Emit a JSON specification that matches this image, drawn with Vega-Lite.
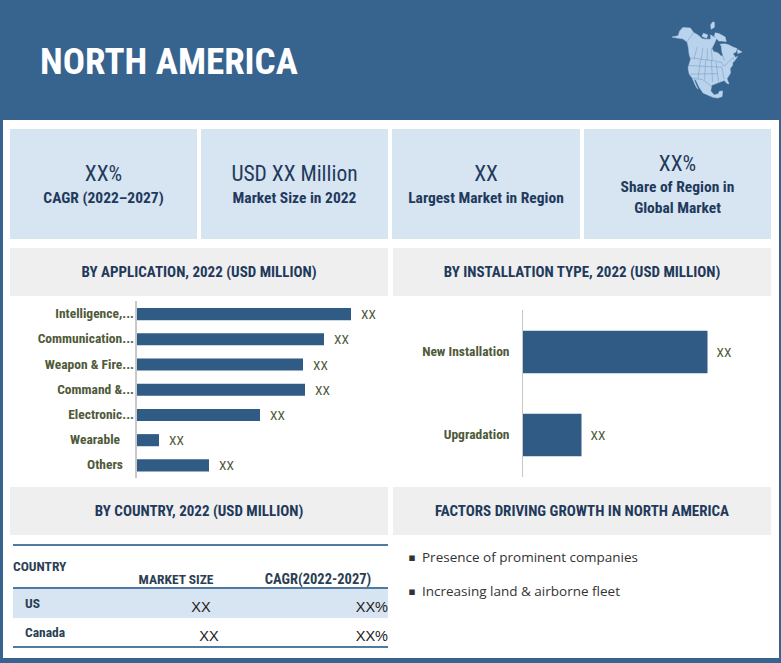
{
"$schema":"https://vega.github.io/schema/vega-lite/v6.json",
"padding":0,"background":"#ffffff","spacing":0,
"config":{"view":{"stroke":null},"axis":{"disable":true},"text":{"font":"Roboto Condensed, DejaVu Sans Condensed, Liberation Sans"}},
"datasets":{
"kpi":[
{"panel":1,"line":1,"kind":"value","text":"XX%"},{"panel":1,"line":2,"kind":"label","text":"CAGR (2022–2027)"},
{"panel":2,"line":1,"kind":"value","text":"USD XX Million"},{"panel":2,"line":2,"kind":"label","text":"Market Size in 2022"},
{"panel":3,"line":1,"kind":"value","text":"XX"},{"panel":3,"line":2,"kind":"label","text":"Largest Market in Region"},
{"panel":4,"line":1,"kind":"value","text":"XX%"},{"panel":4,"line":2,"kind":"label","text":"Share of Region in"},{"panel":4,"line":3,"kind":"label","text":"Global Market"}],
"application":[
{"category":"Intelligence,...","value":215,"label":"XX"},{"category":"Communication...","value":188,"label":"XX"},{"category":"Weapon & Fire...","value":167,"label":"XX"},{"category":"Command &...","value":169,"label":"XX"},{"category":"Electronic...","value":124,"label":"XX"},{"category":"Wearable","value":23,"label":"XX"},{"category":"Others","value":73,"label":"XX"}],
"installation":[{"category":"New Installation","value":185,"label":"XX"},{"category":"Upgradation","value":59,"label":"XX"}],
"countries":[{"country":"US","market":"XX","cagr":"XX%"},{"country":"Canada","market":"XX","cagr":"XX%"}],
"drivers":[{"factor":"Presence of prominent companies"},{"factor":"Increasing land & airborne fleet"}]
},
"vconcat":[
{"hconcat":[
 {"width":672,"height":120,"view":{"fill":"#37638f"},"data":{"values":[{"title":"NORTH AMERICA"}]},"mark":{"type":"text","font":"Roboto Condensed, DejaVu Sans Condensed, Liberation Sans","fontWeight":"bold","fontSize":37,"color":"#ffffff","align":"left"},"encoding":{"text":{"field":"title"},"x":{"value":40},"y":{"value":63}}},
 {"width":70,"height":120,"view":{"fill":"#37638f"},"projection":{"type":"azimuthalEqualArea","rotate":[100,-50]},"layer":[
  {"data":{"values":{"type":"FeatureCollection","features":[
   {"type":"Feature","properties":{"name":"Mainland"},"geometry":{"type":"Polygon","coordinates":[[[-168,66],[-156,71],[-141,70],[-128,70],[-115,68],[-108,68],[-95,68],[-94,72],[-85,69],[-81,68],[-88,64],[-94,60],[-92,57],[-85,55],[-82,52],[-79,51],[-79,55],[-77,60],[-78,62],[-70,61],[-65,59],[-60,55],[-56,52],[-60,50],[-65,50],[-64,46],[-61,46],[-66,44],[-70,43],[-71,41],[-75,39],[-76,35],[-81,31],[-80,26],[-82,27],[-84,30],[-90,29],[-97,27],[-98,22],[-95,18],[-91,19],[-90,21],[-87,21],[-88,16],[-92,15],[-96,16],[-105,20],[-109,25],[-113,31],[-115,31],[-110,23],[-112,25],[-117,32],[-121,35],[-124,40],[-124,48],[-128,51],[-133,56],[-140,60],[-150,60],[-158,57],[-165,54],[-160,59],[-165,62],[-168,66]]]}},
   {"type":"Feature","properties":{"name":"Baffin"},"geometry":{"type":"Polygon","coordinates":[[[-80,73],[-70,71],[-62,66],[-65,62],[-72,64],[-78,65],[-85,70],[-80,73]]]}},
   {"type":"Feature","properties":{"name":"Victoria"},"geometry":{"type":"Polygon","coordinates":[[[-117,70],[-115,73],[-102,72],[-105,69],[-117,70]]]}},
   {"type":"Feature","properties":{"name":"Ellesmere"},"geometry":{"type":"Polygon","coordinates":[[[-90,77],[-88,81],[-70,83],[-62,82],[-75,78],[-90,77]]]}},
   {"type":"Feature","properties":{"name":"Newfoundland"},"geometry":{"type":"Polygon","coordinates":[[[-59,48],[-56,51],[-53,47],[-59,48]]]}}
  ]},"format":{"type":"json","property":"features"}},"mark":{"type":"geoshape","clip":true,"fill":"#b9d3ec","stroke":"#b9d3ec","strokeWidth":0.5}},
  {"data":{"values":{"type":"FeatureCollection","features":[
   {"type":"Feature","properties":{"name":"US-Canada"},"geometry":{"type":"LineString","coordinates":[[-124,49],[-95,49],[-89,48],[-83,46],[-82,43],[-79,43],[-75,45],[-70,46],[-67,47],[-67,45]]}},
   {"type":"Feature","properties":{"name":"Alaska"},"geometry":{"type":"LineString","coordinates":[[-141,70],[-141,60]]}},
   {"type":"Feature","properties":{"name":"US-Mexico"},"geometry":{"type":"LineString","coordinates":[[-117,32],[-106,32],[-101,29],[-97,26]]}},
   {"type":"Feature","properties":{"name":"Canada provinces"},"geometry":{"type":"MultiLineString","coordinates":[[[-120,49],[-120,60]],[[-110,49],[-110,60]],[[-102,49],[-102,60]],[[-95,49],[-95,60]],[[-79,47],[-79,51]]]}},
   {"type":"Feature","properties":{"name":"US states"},"geometry":{"type":"MultiLineString","coordinates":[[[-124,42],[-84,42]],[[-120,35],[-90,37]],[[-111,49],[-111,32]],[[-104,49],[-104,32]],[[-96,49],[-96,30]],[[-90,47],[-90,30]],[[-84,42],[-84,31]]]}}
  ]},"format":{"type":"json","property":"features"}},"mark":{"type":"geoshape","clip":true,"filled":false,"stroke":"#5a86b3","strokeWidth":0.4}}
 ]},
 {"width":39,"height":120,"view":{"fill":"#37638f"},"data":{"values":[{"gap":1}]},"mark":{"type":"rect","opacity":0},"encoding":{"x":{"value":0},"x2":{"value":1},"y":{"value":0},"y2":{"value":1}}}
],"spacing":0},
{"hconcat":[
 {"width":3,"height":538,"view":{"fill":"#37638f"},"data":{"values":[{"gap":1}]},"mark":{"type":"rect","opacity":0},"encoding":{"x":{"value":0},"x2":{"value":1},"y":{"value":0},"y2":{"value":1}}},
 {"vconcat":[
  {"width":761,"height":9,"data":{"values":[{"gap":1}]},"mark":{"type":"rect","opacity":0},"encoding":{"x":{"value":0},"x2":{"value":1},"y":{"value":0},"y2":{"value":1}}},
  {"hconcat":[
   {"width":187,"height":110,"view":{"fill":"#d7e4f1"},"data":{"name":"kpi"},"transform":[{"filter":"datum.panel==1"}],"encoding":{"text":{"field":"text"},"y":{"field":"line","type":"ordinal","scale":{"type":"point","padding":0,"domain":[1,2],"range":[46,69]}}},
    "layer":[{"transform":[{"filter":"datum.kind=='value'"}],"mark":{"type":"text","fontSize":21.5,"color":"#1f3a5c"}},{"transform":[{"filter":"datum.kind=='label'"}],"mark":{"type":"text","fontSize":15.5,"fontWeight":"bold","color":"#1f3a5c"}}]},
   {"width":187,"height":110,"view":{"fill":"#d7e4f1"},"data":{"name":"kpi"},"transform":[{"filter":"datum.panel==2"}],"encoding":{"text":{"field":"text"},"y":{"field":"line","type":"ordinal","scale":{"type":"point","padding":0,"domain":[1,2],"range":[46,69]}}},
    "layer":[{"transform":[{"filter":"datum.kind=='value'"}],"mark":{"type":"text","fontSize":21.5,"color":"#1f3a5c"}},{"transform":[{"filter":"datum.kind=='label'"}],"mark":{"type":"text","fontSize":15.5,"fontWeight":"bold","color":"#1f3a5c"}}]},
   {"width":188,"height":110,"view":{"fill":"#d7e4f1"},"data":{"name":"kpi"},"transform":[{"filter":"datum.panel==3"}],"encoding":{"text":{"field":"text"},"y":{"field":"line","type":"ordinal","scale":{"type":"point","padding":0,"domain":[1,2],"range":[46,69]}}},
    "layer":[{"transform":[{"filter":"datum.kind=='value'"}],"mark":{"type":"text","fontSize":21.5,"color":"#1f3a5c"}},{"transform":[{"filter":"datum.kind=='label'"}],"mark":{"type":"text","fontSize":15.5,"fontWeight":"bold","color":"#1f3a5c"}}]},
   {"width":187,"height":110,"view":{"fill":"#d7e4f1"},"data":{"name":"kpi"},"transform":[{"filter":"datum.panel==4"}],"encoding":{"text":{"field":"text"},"y":{"field":"line","type":"ordinal","scale":{"type":"point","padding":0,"domain":[1,2,3],"range":[36,79]}}},
    "layer":[{"transform":[{"filter":"datum.kind=='value'"}],"mark":{"type":"text","fontSize":21.5,"color":"#1f3a5c"}},{"transform":[{"filter":"datum.kind=='label'"}],"mark":{"type":"text","fontSize":15.5,"fontWeight":"bold","color":"#1f3a5c"}}]}
  ],"spacing":4},
  {"width":761,"height":9,"data":{"values":[{"gap":1}]},"mark":{"type":"rect","opacity":0},"encoding":{"x":{"value":0},"x2":{"value":1},"y":{"value":0},"y2":{"value":1}}},
  {"hconcat":[
   {"width":378,"height":48,"view":{"fill":"#efefef"},"data":{"values":[{"t":"BY APPLICATION, 2022 (USD MILLION)"}]},"mark":{"type":"text","fontWeight":"bold","fontSize":15,"color":"#1f3a5c"},"encoding":{"text":{"field":"t"}}},
   {"width":378,"height":48,"view":{"fill":"#efefef"},"data":{"values":[{"t":"BY INSTALLATION TYPE, 2022 (USD MILLION)"}]},"mark":{"type":"text","fontWeight":"bold","fontSize":15,"color":"#1f3a5c"},"encoding":{"text":{"field":"t"}}}
  ],"spacing":5},
  {"hconcat":[
   {"width":378,"height":191,"data":{"name":"application"},
    "encoding":{"y":{"field":"category","type":"nominal","sort":null,"scale":{"domain":["Intelligence,...","Communication...","Weapon & Fire...","Command &...","Electronic...","Wearable","Others"],"range":[5.5,182],"paddingInner":0.52,"paddingOuter":0.26}},"x":{"field":"value","type":"quantitative","scale":{"domain":[-126,252],"nice":false,"zero":false}}},
    "layer":[
     {"mark":{"type":"bar","color":"#2f5b85"},"encoding":{"x":{"datum":0},"x2":{"field":"value"}}},
     {"mark":{"type":"rule","color":"#c8c8c8"},"encoding":{"x":{"datum":0},"y":{"value":5},"y2":{"value":182}}},
     {"mark":{"type":"text","align":"left","dx":10,"dy":1,"fontSize":13.5,"color":"#4f5a3a"},"encoding":{"text":{"field":"label"}}},
     {"transform":[{"filter":"datum.category!='Wearable' && datum.category!='Others'"}],"mark":{"type":"text","align":"right","dx":-2,"fontWeight":"bold","fontSize":13.5,"color":"#4f5a3a"},"encoding":{"text":{"field":"category"},"x":{"datum":0}}},
     {"transform":[{"filter":"datum.category=='Wearable'"}],"mark":{"type":"text","align":"right","dx":-16,"fontWeight":"bold","fontSize":13.5,"color":"#4f5a3a"},"encoding":{"text":{"field":"category"},"x":{"datum":0}}},
     {"transform":[{"filter":"datum.category=='Others'"}],"mark":{"type":"text","align":"right","dx":-13,"fontWeight":"bold","fontSize":13.5,"color":"#4f5a3a"},"encoding":{"text":{"field":"category"},"x":{"datum":0}}}
    ]},
   {"width":378,"height":191,"data":{"name":"installation"},
    "encoding":{"y":{"field":"category","type":"nominal","sort":null,"scale":{"domain":["New Installation","Upgradation"],"range":[14.5,180.5],"paddingInner":0.49,"paddingOuter":0.245}},"x":{"field":"value","type":"quantitative","scale":{"domain":[-129.5,248.5],"nice":false,"zero":false}}},
    "layer":[
     {"mark":{"type":"bar","color":"#2f5b85"},"encoding":{"x":{"datum":0},"x2":{"field":"value"}}},
     {"mark":{"type":"rule","color":"#c8c8c8"},"encoding":{"x":{"datum":0},"y":{"value":14},"y2":{"value":181}}},
     {"mark":{"type":"text","align":"left","dx":9,"dy":1,"fontSize":13.5,"color":"#4f5a3a"},"encoding":{"text":{"field":"label"}}},
     {"mark":{"type":"text","align":"right","dx":-13,"fontWeight":"bold","fontSize":13.5,"color":"#4f5a3a"},"encoding":{"text":{"field":"category"},"x":{"datum":0}}}
    ]}
  ],"spacing":5},
  {"hconcat":[
   {"width":378,"height":48,"view":{"fill":"#efefef"},"data":{"values":[{"t":"BY COUNTRY, 2022 (USD MILLION)"}]},"mark":{"type":"text","fontWeight":"bold","fontSize":15,"color":"#1f3a5c"},"encoding":{"text":{"field":"t"}}},
   {"width":378,"height":48,"view":{"fill":"#efefef"},"data":{"values":[{"t":"FACTORS DRIVING GROWTH IN NORTH AMERICA"}]},"mark":{"type":"text","fontWeight":"bold","fontSize":15,"color":"#1f3a5c"},"encoding":{"text":{"field":"t"}}}
  ],"spacing":5},
  {"hconcat":[
   {"width":378,"height":123,"data":{"name":"countries"},
    "encoding":{"y":{"field":"country","type":"nominal","sort":null,"scale":{"domain":["US","Canada"],"range":[54,112],"paddingInner":0,"paddingOuter":0}}},
    "layer":[
     {"transform":[{"filter":"datum.country=='US'"}],"mark":{"type":"rect","color":"#d7e4f1"},"encoding":{"x":{"value":3},"x2":{"value":378}}},
     {"transform":[{"filter":"datum.country=='US'"}],"mark":{"type":"rule","color":"#4f7ba3","strokeWidth":2},"encoding":{"y":{"value":10},"x":{"value":3},"x2":{"value":378}}},
     {"transform":[{"filter":"datum.country=='US'"}],"mark":{"type":"rule","color":"#4f7ba3","strokeWidth":2},"encoding":{"y":{"value":53},"x":{"value":3},"x2":{"value":378}}},
     {"transform":[{"filter":"datum.country=='US'"}],"mark":{"type":"rule","color":"#4f7ba3","strokeWidth":2},"encoding":{"y":{"value":112},"x":{"value":3},"x2":{"value":378}}},
     {"mark":{"type":"text","align":"left","fontWeight":"bold","fontSize":13.5,"color":"#2b3f55"},"encoding":{"text":{"field":"country"},"x":{"value":15}}},
     {"transform":[{"filter":"datum.country=='US'"}],"mark":{"type":"text","fontSize":14.5,"dy":4,"color":"#222222","font":"Liberation Sans"},"encoding":{"text":{"field":"market"},"x":{"value":191}}},
     {"transform":[{"filter":"datum.country=='Canada'"}],"mark":{"type":"text","fontSize":14.5,"dy":4,"color":"#222222","font":"Liberation Sans"},"encoding":{"text":{"field":"market"},"x":{"value":199}}},
     {"mark":{"type":"text","align":"right","fontSize":14.5,"dy":4,"color":"#222222","font":"Liberation Sans"},"encoding":{"text":{"field":"cagr"},"x":{"value":378}}},
     {"data":{"values":[{"h":"COUNTRY"}]},"mark":{"type":"text","align":"left","fontWeight":"bold","fontSize":13.5,"color":"#2b3f55"},"encoding":{"text":{"field":"h"},"x":{"value":3},"y":{"value":32}}},
     {"data":{"values":[{"h":"MARKET SIZE"}]},"mark":{"type":"text","fontWeight":"bold","fontSize":13.5,"color":"#2b3f55"},"encoding":{"text":{"field":"h"},"x":{"value":166},"y":{"value":45}}},
     {"data":{"values":[{"h":"CAGR(2022-2027)"}]},"mark":{"type":"text","fontWeight":"bold","fontSize":14.5,"color":"#2b3f55"},"encoding":{"text":{"field":"h"},"x":{"value":308},"y":{"value":45}}}
    ]},
   {"width":378,"height":123,"data":{"name":"drivers"},
    "encoding":{"y":{"field":"factor","type":"nominal","sort":null,"scale":{"type":"point","padding":0,"domain":["Presence of prominent companies","Increasing land & airborne fleet"],"range":[23,57]}}},
    "layer":[
     {"mark":{"type":"text","text":"▪","fontSize":11,"color":"#333333","font":"DejaVu Sans"},"encoding":{"x":{"value":18}}},
     {"mark":{"type":"text","align":"left","fontSize":13.5,"color":"#333333","font":"Open Sans"},"encoding":{"text":{"field":"factor"},"x":{"value":28}}}
    ]}
  ],"spacing":5}
 ],"spacing":0},
 {"width":3,"height":538,"view":{"fill":"#37638f"},"data":{"values":[{"gap":1}]},"mark":{"type":"rect","opacity":0},"encoding":{"x":{"value":0},"x2":{"value":1},"y":{"value":0},"y2":{"value":1}}}
],"spacing":7},
{"width":781,"height":5,"view":{"fill":"#37638f"},"data":{"values":[{"gap":1}]},"mark":{"type":"rect","opacity":0},"encoding":{"x":{"value":0},"x2":{"value":1},"y":{"value":0},"y2":{"value":1}}}
]}
